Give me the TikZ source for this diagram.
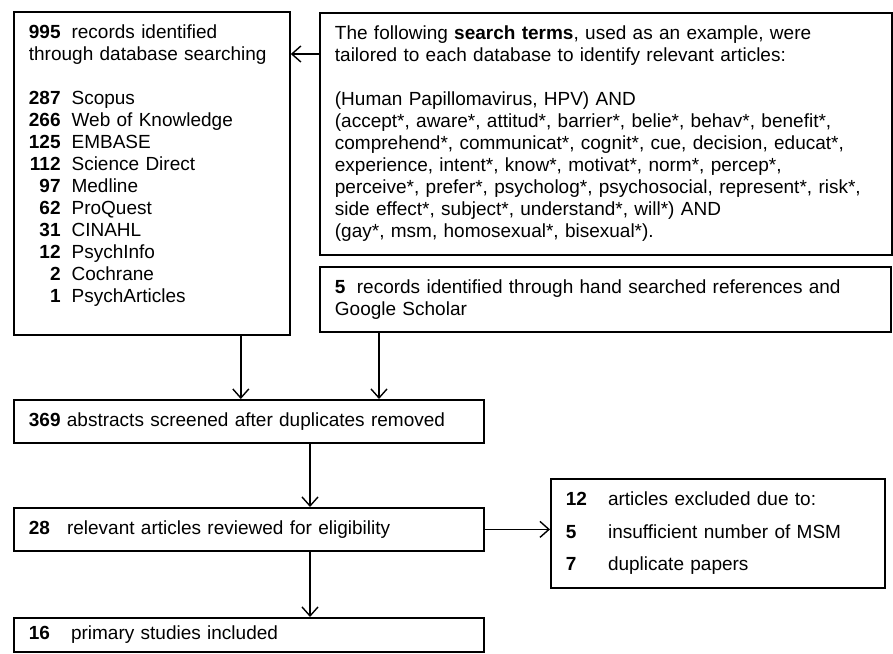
\documentclass[tikz,border=0pt]{standalone}
\usepackage{fontspec}
\setmainfont{Liberation Sans}
\usetikzlibrary{arrows.meta,positioning,calc}

\begin{document}
\begin{tikzpicture}[x=1pt,y=-1pt,line width=1.8pt,
  box/.style={draw,anchor=north west,align=left,inner xsep=15pt,inner ysep=0pt,font=\fontsize{19}{22}\selectfont},
  arr/.style={-{Straight Barb[length=9pt,width=16pt]},line width=1.4pt}]
\useasboundingbox (0,0) rectangle (893,653);
\begin{scope}
\node[box,minimum width=276pt,minimum height=323pt,text width=246pt] (db) at (13,11) {%
\begin{tabular}{@{}r@{\hspace{11pt}}l@{}}
\textbf{995} & records identified\\
\multicolumn{2}{@{}l@{}}{through database searching}\\
 & \\
\textbf{287} & Scopus\\
\textbf{266} & Web of Knowledge\\
\textbf{125} & EMBASE\\
\textbf{112} & Science Direct\\
\textbf{97} & Medline\\
\textbf{62} & ProQuest\\
\textbf{31} & CINAHL\\
\textbf{12} & PsychInfo\\
\textbf{2} & Cochrane\\
\textbf{1} & PsychArticles\\[15pt]
\end{tabular}};
\node[box,minimum width=572pt,minimum height=242pt,text width=542pt] (terms) at (319,12) {%
The following \textbf{search terms}, used as an example, were\\
tailored to each database to identify relevant articles:\\[22pt]
(Human Papillomavirus, HPV) AND\\
(accept*, aware*, attitud*, barrier*, belie*, behav*, benefit*,\\
comprehend*, communicat*, cognit*, cue, decision, educat*,\\
experience, intent*, know*, motivat*, norm*, percep*,\\
perceive*, prefer*, psycholog*, psychosocial, represent*, risk*,\\
side effect*, subject*, understand*, will*) AND\\
(gay*, msm, homosexual*, bisexual*).};
\node[box,minimum width=571pt,minimum height=65pt,text width=541pt] (hand) at (319,266) {%
\textbf{5}\hspace{0.6em}records identified through hand searched references and\\
Google Scholar};
\node[box,minimum width=470pt,minimum height=43pt,text width=440pt] (screened) at (13,399) {%
\textbf{369} abstracts screened after duplicates removed};
\node[box,minimum width=470pt,minimum height=43pt,text width=440pt] (relevant) at (13,507) {%
\textbf{28}\hspace{17pt}relevant articles reviewed for eligibility};
\node[box,minimum width=334pt,minimum height=109pt,text width=304pt] (excluded) at (550,478) {%
\begin{tabular}{@{}l@{\hspace{21pt}}l@{}}
\textbf{12} & articles excluded due to:\\[11pt]
\textbf{5} & insufficient number of MSM\\[10pt]
\textbf{7} & duplicate papers
\end{tabular}};
\node[box,minimum width=470pt,minimum height=34pt,text width=440pt] (included) at (13,617) {%
\textbf{16}\hspace{21pt}primary studies included};
\end{scope}
\begin{scope}
\draw[arr] ([yshift=-42pt]terms.north west) -- ([yshift=-42pt]terms.north west -| db.east);
\draw[arr] ([xshift=-50pt]db.south east) -- ([xshift=-50pt]db.south east |- screened.north);
\draw[arr] ([xshift=60pt]hand.south west) -- ([xshift=60pt]hand.south west |- screened.north);
\draw[arr] ([xshift=297pt]screened.south west) -- ([xshift=297pt]relevant.north west);
\draw[arr] ([xshift=297pt]relevant.south west) -- ([xshift=297pt]included.north west);
\draw[arr] (relevant.east) -- (relevant.east -| excluded.west);
\end{scope}
\end{tikzpicture}
\end{document}
